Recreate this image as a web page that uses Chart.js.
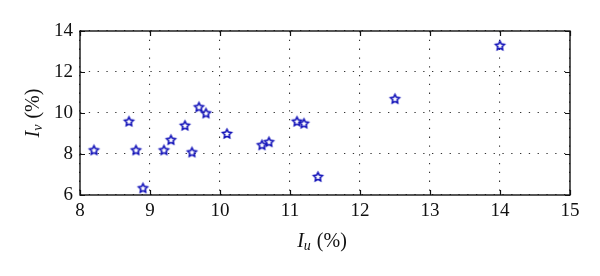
<!DOCTYPE html>
<html>
<head>
<meta charset="utf-8">
<script src="https://cdn.jsdelivr.net/npm/chart.js@4"></script>
<style>
html,body{margin:0;padding:0;background:#fff;}
#wrap{width:600px;height:276px;}
</style>
</head>
<body>
<div id="wrap"><canvas id="c" width="600" height="276"></canvas></div>
<script>
const xValues = [8.2, 8.7, 8.8, 8.9, 9.2, 9.3, 9.5, 9.6, 9.7, 9.8, 10.1, 10.6, 10.7, 11.1, 11.2, 11.4, 12.5, 14.0];
const yValues = [8.2, 9.6, 8.2, 6.35, 8.2, 8.7, 9.4, 8.1, 10.3, 10.0, 9.0, 8.45, 8.6, 9.6, 9.5, 6.9, 10.7, 13.3];
const xTicks = [8, 9, 10, 11, 12, 13, 14, 15];
const yTicks = [6, 8, 10, 12, 14];
const xTitle = ['I', 'u', ' (%)'];
const yTitle = ['I', 'v', ' (%)'];

const FONT = '"Liberation Serif", serif';

function makeStar(r, color, lw) {
  const s = Math.ceil(2 * r + lw * 2 + 2);
  const c = document.createElement('canvas');
  c.width = s; c.height = s;
  const ctx = c.getContext('2d');
  ctx.translate(s / 2, s / 2 + 0.5);
  ctx.beginPath();
  for (let i = 0; i < 10; i++) {
    const a = -Math.PI / 2 + i * Math.PI / 5;
    const rad = (i % 2) ? r * 0.5 : r;
    const px = rad * Math.cos(a), py = rad * Math.sin(a);
    if (i === 0) ctx.moveTo(px, py); else ctx.lineTo(px, py);
  }
  ctx.closePath();
  ctx.strokeStyle = color;
  ctx.lineWidth = lw;
  ctx.lineJoin = 'miter';
  ctx.stroke();
  return c;
}
const starImg = makeStar(4.6, '#1010b8', 1.6);

const points = xValues.map((x, i) => ({x: x, y: yValues[i]}));

function drawTitle(ctx, parts, cx, baseline) {
  const big = '20px ' + FONT, small = '14px ' + FONT;
  ctx.font = 'italic ' + big; const w0 = ctx.measureText(parts[0]).width;
  ctx.font = 'italic ' + small; const w1 = ctx.measureText(parts[1]).width;
  ctx.font = big; const w2 = ctx.measureText(parts[2]).width;
  let x = cx - (w0 + w1 + 1 + w2) / 2;
  ctx.fillStyle = '#111';
  ctx.textBaseline = 'alphabetic';
  ctx.textAlign = 'left';
  ctx.font = 'italic ' + big; ctx.fillText(parts[0], x, baseline); x += w0;
  ctx.font = 'italic ' + small; ctx.fillText(parts[1], x, baseline + 3); x += w1 + 1;
  ctx.font = big; ctx.fillText(parts[2], x, baseline);
}

const framePlugin = {
  id: 'frame',
  afterDatasetsDraw(chart) {
    const {ctx, chartArea: a, scales} = chart;
    ctx.save();
    ctx.strokeStyle = '#111';
    ctx.lineWidth = 1.4;
    ctx.strokeRect(a.left, a.top, a.right - a.left, a.bottom - a.top);
    ctx.lineWidth = 1.2;
    const tl = 5;
    ctx.beginPath();
    xTicks.forEach(v => {
      const px = Math.round(scales.x.getPixelForValue(v)) + 0.5;
      ctx.moveTo(px, a.bottom); ctx.lineTo(px, a.bottom - tl);
      ctx.moveTo(px, a.top); ctx.lineTo(px, a.top + tl);
    });
    yTicks.forEach(v => {
      const py = Math.round(scales.y.getPixelForValue(v)) + 0.5;
      ctx.moveTo(a.left, py); ctx.lineTo(a.left + tl, py);
      ctx.moveTo(a.right, py); ctx.lineTo(a.right - tl, py);
    });
    ctx.stroke();
    ctx.restore();
  },
  afterDraw(chart) {
    const {ctx, chartArea: a} = chart;
    ctx.save();
    drawTitle(ctx, xTitle, (a.left + a.right) / 2 - 3, 247);
    ctx.translate(39, (a.top + a.bottom) / 2);
    ctx.rotate(-Math.PI / 2);
    drawTitle(ctx, yTitle, 0, 0);
    ctx.restore();
  }
};

new Chart(document.getElementById('c'), {
  type: 'scatter',
  data: {
    datasets: [{
      data: points,
      pointStyle: starImg,
      pointRadius: 5,
      pointHoverRadius: 5
    }]
  },
  options: {
    responsive: false,
    animation: false,
    events: [],
    layout: {padding: {left: 0, right: 30, top: 31, bottom: 0}},
    plugins: {legend: {display: false}, tooltip: {enabled: false}},
    scales: {
      x: {
        type: 'linear', min: 8, max: 15,
        afterBuildTicks: s => { s.ticks = xTicks.map(v => ({value: v})); },
        afterFit: s => { s.height = 81; },
        border: {display: false, dash: [1.3, 7.5]},
        grid: {color: '#333', lineWidth: 1.1, drawTicks: false},
        ticks: {padding: 5, color: '#111', font: {family: FONT, size: 19}, maxRotation: 0, autoSkip: false}
      },
      y: {
        type: 'linear', min: 6, max: 14,
        afterBuildTicks: s => { s.ticks = yTicks.map(v => ({value: v})); },
        afterFit: s => { s.width = 80; },
        border: {display: false, dash: [1.3, 7.5]},
        grid: {color: '#333', lineWidth: 1.1, drawTicks: false},
        ticks: {padding: 7, color: '#111', font: {family: FONT, size: 19}, autoSkip: false}
      }
    }
  },
  plugins: [framePlugin]
});
</script>
</body>
</html>
